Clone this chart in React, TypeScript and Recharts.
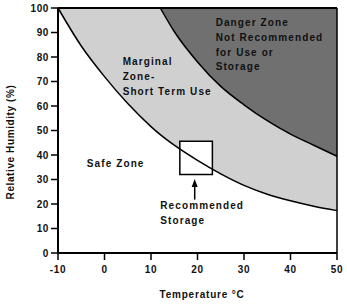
import React from 'react';
import {
  ComposedChart,
  Area,
  Line,
  XAxis,
  YAxis,
  ReferenceArea,
  ReferenceLine,
  ReferenceDot,
} from 'recharts';

// Temperature (°C) sample points
const temps = [-10, -5, 0, 5, 10, 12, 15, 20, 25, 30, 35, 40, 45, 50];
// Upper limit of the safe zone (RH %)
const safeLimit = [100, 84.5, 72, 61, 51.6, 48.3, 44, 37.8, 32.3, 27.6, 24, 21.3, 19.1, 17.3];
// Lower limit of the danger zone (RH %), starts at ~12 °C
const dangerLimit = [null, null, null, null, null, 100, 90.4, 78, 68, 60.5, 54, 48.5, 44, 39.5];

const xTicks = [-10, 0, 10, 20, 30, 40, 50];
const yTicks = [0, 10, 20, 30, 40, 50, 60, 70, 80, 90, 100];

// recommended storage box
const boxTemp = [16.2, 23.2];
const boxRh = [32, 45.6];
const arrowTemp = 19.4;
const arrowRh = [21.8, 30.2];

const FONT = '"Liberation Sans", Arial, sans-serif';
const LIGHT = '#d0d0d0';
const DARK = '#707070';

const data = temps.map((t, i) => ({
  t,
  top: 100,
  safe: safeLimit[i],
  danger: dangerLimit[i] == null ? null : [dangerLimit[i], 100],
}));

const notes = [
  { t: 23.9, rh: 94.1, lines: ['Danger Zone', 'Not Recommended', 'for Use or', 'Storage'] },
  { t: 3.9, rh: 78, lines: ['Marginal', 'Zone-', 'Short Term Use'] },
  { t: -3.8, rh: 36.7, lines: ['Safe Zone'] },
  { t: 12, rh: 19.3, lines: ['Recommended', 'Storage'] },
];

const NoteText = (props: any) => {
  const { cx, cy, lines } = props;
  return (
    <text x={cx} y={cy} fontFamily={FONT} fontSize={10} fontWeight="bold" letterSpacing={1.1} fill="#111">
      {lines.map((l: string, i: number) => (
        <tspan key={i} x={cx} y={cy + i * 14.8} dominantBaseline="central">
          {l}
        </tspan>
      ))}
    </text>
  );
};

const ArrowHead = (props: any) => {
  const { cx, cy } = props;
  return <path d={`M${cx},${cy} L${cx - 3},${cy + 8} L${cx + 3},${cy + 8} Z`} fill="#000" />;
};

const tickStyle = { fontFamily: FONT, fontSize: 10, fontWeight: 'bold', fill: '#111', letterSpacing: 0.6 };

export default function App() {
  return (
    <div style={{ position: 'absolute', left: 0, top: 0, width: 347, height: 308, background: '#fff' }}>
      <ComposedChart width={347} height={308} data={data} margin={{ top: 8, right: 10, bottom: 0, left: 0 }}>
        <XAxis
          dataKey="t"
          type="number"
          domain={[-10, 50]}
          ticks={xTicks}
          tick={tickStyle}
          tickSize={7}
          tickMargin={6}
          height={55}
          stroke="#000"
          strokeWidth={2}
          tickLine={{ stroke: '#000', strokeWidth: 1.5 }}
        />
        <YAxis
          type="number"
          domain={[0, 100]}
          ticks={yTicks}
          tick={tickStyle}
          tickSize={7}
          tickMargin={2}
          width={58}
          stroke="#000"
          strokeWidth={2}
          tickLine={{ stroke: '#000', strokeWidth: 1.5 }}
        />
        <Area dataKey="top" type="linear" fill={LIGHT} fillOpacity={1} stroke="none" isAnimationActive={false} />
        <Area dataKey="safe" type="monotone" fill="#fff" fillOpacity={1} stroke="none" isAnimationActive={false} />
        <Area
          dataKey="danger"
          type="monotone"
          fill={DARK}
          fillOpacity={1}
          stroke="#000"
          strokeWidth={1.5}
          isAnimationActive={false}
        />
        <ReferenceArea
          x1={boxTemp[0]}
          x2={boxTemp[1]}
          y1={boxRh[0]}
          y2={boxRh[1]}
          fill="#fff"
          fillOpacity={1}
          stroke="#000"
          strokeWidth={1.5}
        />
        <Line dataKey="safe" type="monotone" stroke="#000" strokeWidth={1.5} dot={false} isAnimationActive={false} />
        <ReferenceLine y={100} stroke="#000" strokeWidth={2} />
        <ReferenceLine x={50} stroke="#000" strokeWidth={1.5} />
        <ReferenceLine
          segment={[
            { x: arrowTemp, y: arrowRh[0] },
            { x: arrowTemp, y: arrowRh[1] - 2 },
          ]}
          stroke="#000"
          strokeWidth={1.5}
        />
        <ReferenceDot x={arrowTemp} y={arrowRh[1]} r={0} shape={(p: any) => <ArrowHead {...p} />} />
        {notes.map((n, i) => (
          <ReferenceDot key={i} x={n.t} y={n.rh} r={0} shape={(p: any) => <NoteText {...p} lines={n.lines} />} />
        ))}
        <text
          x={10}
          y={142}
          transform="rotate(-90 10 142)"
          textAnchor="middle"
          dominantBaseline="central"
          fontFamily={FONT}
          fontSize={10}
          fontWeight="bold"
          letterSpacing={0.6}
          fill="#111"
        >
          Relative Humidity (%)
        </text>
        <text
          x={202}
          y={294}
          textAnchor="middle"
          dominantBaseline="central"
          fontFamily={FONT}
          fontSize={10}
          fontWeight="bold"
          letterSpacing={0.8}
          fill="#111"
        >
          Temperature °C
        </text>
      </ComposedChart>
    </div>
  );
}
